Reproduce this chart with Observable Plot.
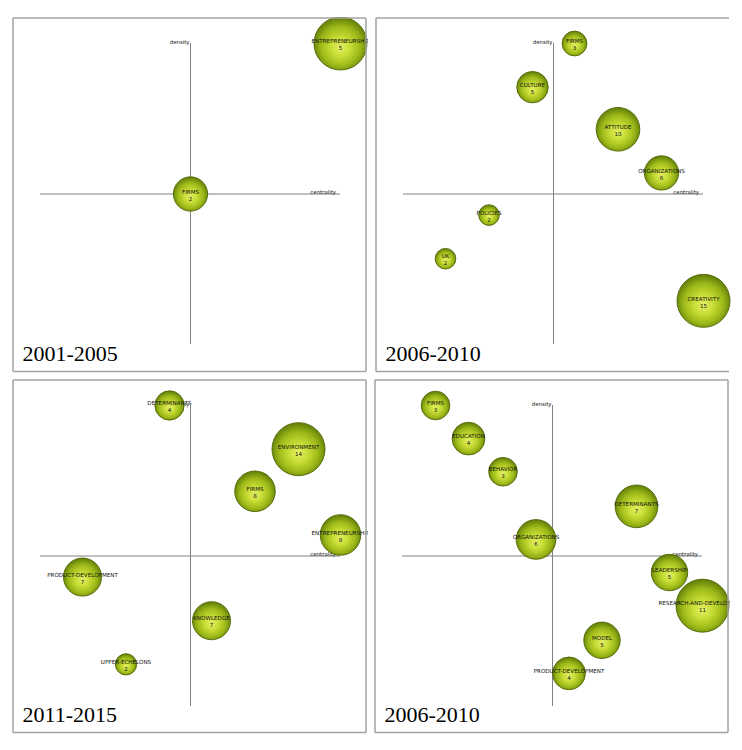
<!DOCTYPE html>
<html>
<head>
<meta charset="utf-8">
<script src="https://cdn.jsdelivr.net/npm/d3@7"></script>
<script src="https://cdn.jsdelivr.net/npm/@observablehq/plot@0.6"></script>
<style>
  html, body { margin: 0; padding: 0; background: #fff; }
  #root { position: relative; width: 742px; height: 750px; overflow: hidden; }
  .panel { position: absolute; }
</style>
</head>
<body>
<div id="root"></div>
<script>
// ---- Data (centrality on x, density on y, normalised to the axis half-length) ----
const titles = ["2001-2005", "2006-2010", "2011-2015", "2006-2010"];

const p1Names = ["ENTREPRENEURSHIP", "FIRMS"];
const p1Counts = [5, 2];
const p1Centrality = [1.0, 0.0];
const p1Density = [1.0, 0.0];

const p2Names = ["FIRMS", "CULTURE", "ATTITUDE", "ORGANIZATIONS", "POLICIES", "UK", "CREATIVITY"];
const p2Counts = [3, 5, 10, 6, 2, 2, 15];
const p2Centrality = [0.14, -0.14, 0.43, 0.72, -0.43, -0.72, 1.0];
const p2Density = [1.0, 0.71, 0.43, 0.14, -0.14, -0.43, -0.71];

const p3Names = ["DETERMINANTS", "ENVIRONMENT", "FIRMS", "ENTREPRENEURSHIP", "PRODUCT-DEVELOPMENT", "KNOWLEDGE", "UPPER-ECHELONS"];
const p3Counts = [4, 14, 8, 8, 7, 7, 2];
const p3Centrality = [-0.14, 0.72, 0.43, 1.0, -0.72, 0.14, -0.43];
const p3Density = [1.0, 0.71, 0.43, 0.14, -0.14, -0.43, -0.72];

const p4Names = ["FIRMS", "EDUCATION", "BEHAVIOR", "DETERMINANTS", "ORGANIZATIONS", "LEADERSHIP", "RESEARCH-AND-DEVELOPMENT", "MODEL", "PRODUCT-DEVELOPMENT"];
const p4Counts = [3, 4, 3, 7, 6, 5, 11, 5, 4];
const p4Centrality = [-0.78, -0.56, -0.33, 0.56, -0.11, 0.78, 1.0, 0.33, 0.11];
const p4Density = [1.0, 0.78, 0.56, 0.33, 0.11, -0.11, -0.33, -0.56, -0.78];

const axisLabels = { x: "centrality", y: "density" };

// ---- Build ----
function rows(names, counts, cent, dens) {
  return names.map((n, i) => ({ name: n, count: counts[i], centrality: cent[i], density: dens[i] }));
}
const panelData = [
  rows(p1Names, p1Counts, p1Centrality, p1Density),
  rows(p2Names, p2Counts, p2Centrality, p2Density),
  rows(p3Names, p3Counts, p3Centrality, p3Density),
  rows(p4Names, p4Counts, p4Centrality, p4Density)
];
const layout = [
  { left: 12, top: 17, bh: 353.5, right: true, ydy: 16 },
  { left: 375, top: 17, bh: 353.5, right: false, ydy: 16 },
  { left: 12, top: 379, bh: 352.5, right: true, ydy: 15 },
  { left: 374, top: 379, bh: 352.5, right: true, ydy: 15 }
];

const root = document.getElementById("root");
const W = 356, H = 356;

panelData.forEach((data, k) => {
  const L = layout[k];
  const gid = "bubbleGrad" + k;
  const maxC = d3.max(data, d => d.count);
  const chart = Plot.plot({
    width: W,
    height: H,
    marginLeft: 28,
    marginRight: 28,
    marginTop: 26,
    marginBottom: 29,
    style: { background: "transparent", overflow: "hidden", fontFamily: "DejaVu Sans" },
    x: { domain: [-1, 1], axis: null },
    y: { domain: [-1, 1], axis: null },
    r: { type: "sqrt", domain: [0, maxC], range: [1, 26.5] },
    marks: [
      Plot.ruleX([0], { stroke: "#808080", strokeWidth: 1 }),
      Plot.ruleY([0], { stroke: "#808080", strokeWidth: 1 }),
      Plot.text([axisLabels.y], { x: 0, y: 1, text: d => d, textAnchor: "end", lineAnchor: "bottom", dx: -1, dy: 0.5, fontSize: 5.4, fill: "#1a1a1a" }),
      Plot.text([axisLabels.x], { x: 1, y: 0, text: d => d, textAnchor: "end", lineAnchor: "bottom", dx: -4.5, dy: 0, fontSize: 5.4, fill: "#1a1a1a" }),
      Plot.dot(data, { x: "centrality", y: "density", r: "count", fill: `url(#${gid})`, stroke: "#4f6604", strokeWidth: 0.9 }),
      Plot.text(data, { x: "centrality", y: "density", text: d => d.name + "\n" + d.count, fontSize: 5.6, lineHeight: 1.25, dy: 1, fill: "#111" }),
      Plot.text([titles[k]], { frameAnchor: "bottom-left", text: d => d, textAnchor: "start", lineAnchor: "bottom", dx: -18, dy: L.ydy, fontSize: 22, fontFamily: "Liberation Serif", fill: "#000" })
    ]
  });
  const svg = d3.select(chart);
  svg.insert("defs", ":first-child").html(
    `<radialGradient id="${gid}" cx="50%" cy="54%" r="52%" fx="50%" fy="58%">
       <stop offset="0%" stop-color="#e4ef66"/>
       <stop offset="35%" stop-color="#c8dd36"/>
       <stop offset="72%" stop-color="#9cb818"/>
       <stop offset="100%" stop-color="#66830a"/>
     </radialGradient>`
  );
  const b = svg.append("g").attr("fill", "none").attr("stroke", "#a2a2a2").attr("stroke-width", 1.5);
  const x0 = 1, y0 = 1, x1 = 354, y1 = 1 + L.bh;
  b.append("line").attr("x1", x0).attr("y1", y0).attr("x2", x0).attr("y2", y1);
  b.append("line").attr("x1", x0).attr("y1", y0).attr("x2", x1).attr("y2", y0);
  b.append("line").attr("x1", x0).attr("y1", y1).attr("x2", x1).attr("y2", y1);
  if (L.right) b.append("line").attr("x1", x1).attr("y1", y0).attr("x2", x1).attr("y2", y1);

  const wrap = document.createElement("div");
  wrap.className = "panel";
  wrap.style.left = L.left + "px";
  wrap.style.top = L.top + "px";
  wrap.style.width = W + "px";
  wrap.style.height = H + "px";
  wrap.style.overflow = "hidden";
  wrap.appendChild(chart);
  root.appendChild(wrap);
});
</script>
</body>
</html>
